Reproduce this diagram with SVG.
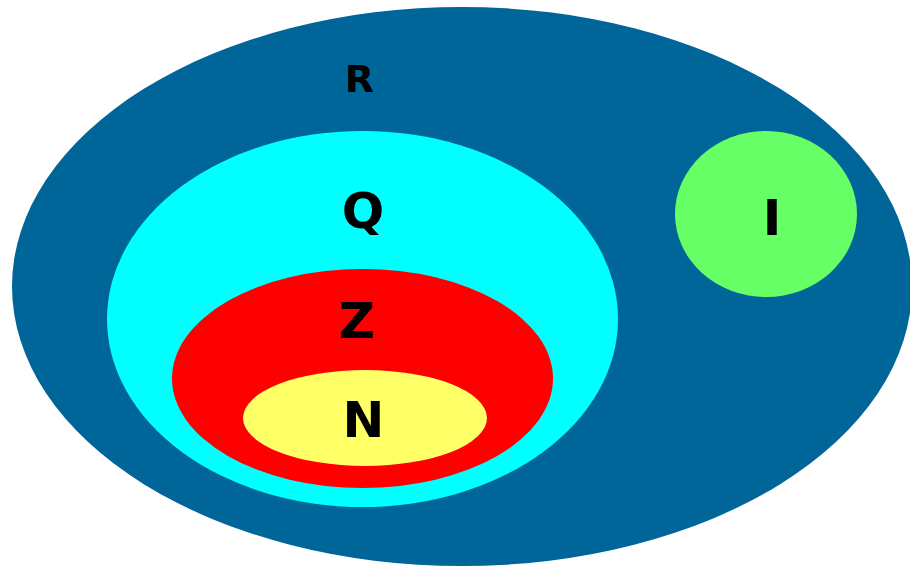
<svg xmlns="http://www.w3.org/2000/svg" width="910" height="566" viewBox="0 0 910 566">
  <style>
    .lbl { font-family: "DejaVu Sans", "Liberation Sans", sans-serif; font-weight: bold; fill: #000000; text-anchor: middle; }
    .big { font-size: 50px; }
    .small { font-size: 38px; }
  </style>
  <rect width="910" height="566" fill="#ffffff"/>
  <!-- Real numbers -->
  <g id="set-R">
    <ellipse cx="462" cy="286.5" rx="450" ry="279.5" fill="#006699"/>
    <text class="lbl small" x="359.5" y="92">R</text>
  </g>
  <!-- Rational numbers -->
  <g id="set-Q">
    <ellipse cx="362.5" cy="319" rx="255.5" ry="188" fill="#00ffff"/>
    <text class="lbl big" x="363" y="228">Q</text>
  </g>
  <!-- Integers -->
  <g id="set-Z">
    <ellipse cx="362.5" cy="378.5" rx="190.5" ry="109.5" fill="#ff0000"/>
    <text class="lbl big" x="357" y="338">Z</text>
  </g>
  <!-- Natural numbers -->
  <g id="set-N">
    <ellipse cx="365" cy="418" rx="122" ry="48" fill="#ffff66"/>
    <text class="lbl big" x="363.5" y="437">N</text>
  </g>
  <!-- Irrational numbers -->
  <g id="set-I">
    <ellipse cx="766" cy="214" rx="91" ry="83" fill="#66ff66"/>
    <text class="lbl big" x="772" y="235">I</text>
  </g>
  <g id="connectors"/>
</svg>
